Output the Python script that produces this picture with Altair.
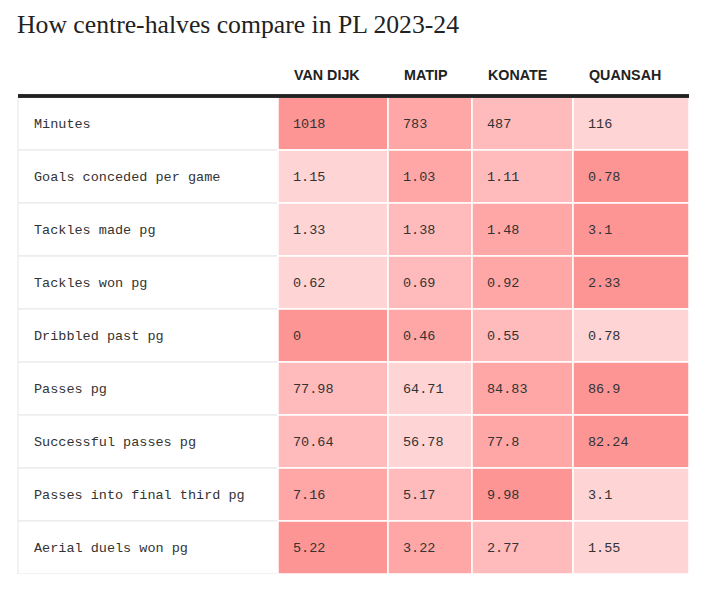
import altair as alt
import pandas as pd

TITLE = "How centre-halves compare in PL 2023-24"
players = ["VAN DIJK", "MATIP", "KONATE", "QUANSAH"]
metrics = [
    "Minutes",
    "Goals conceded per game",
    "Tackles made pg",
    "Tackles won pg",
    "Dribbled past pg",
    "Passes pg",
    "Successful passes pg",
    "Passes into final third pg",
    "Aerial duels won pg",
]
van_dijk = [1018, 1.15, 1.33, 0.62, 0, 77.98, 70.64, 7.16, 5.22]
matip = [783, 1.03, 1.38, 0.69, 0.46, 64.71, 56.78, 5.17, 3.22]
konate = [487, 1.11, 1.48, 0.92, 0.55, 84.83, 77.8, 9.98, 2.77]
quansah = [116, 0.78, 3.1, 2.33, 0.78, 86.9, 82.24, 3.1, 1.55]
lower_is_better = [False, True, False, False, True, False, False, False, False]

# layout (column widths in px)
LABEL_W = 260
COL_W = [110, 84, 101, 116]
SHADES = ["#ffd4d4", "#ffbbbb", "#ffa7a7", "#fe9595"]

series = [van_dijk, matip, konate, quansah]
starts = [LABEL_W]
for w in COL_W[:-1]:
    starts.append(starts[-1] + w)
TOTAL_W = LABEL_W + sum(COL_W)

rows = []
for i, m in enumerate(metrics):
    vals = pd.Series([s[i] for s in series])
    r = vals.rank(method="first", ascending=not lower_is_better[i]) - 1
    for j, p in enumerate(players):
        v = series[j][i]
        rows.append({
            "metric": m, "player": p, "value": v, "label": f"{v:g}",
            "shade": int(r[j]), "x0": starts[j], "x1": starts[j] + COL_W[j],
        })
cells = pd.DataFrame(rows)
labels_df = pd.DataFrame({"metric": metrics, "x0": 0, "x1": LABEL_W})
head_df = pd.DataFrame({"player": players, "x0": starts})

xs = alt.Scale(domain=[0, TOTAL_W], range=[0, TOTAL_W], nice=False, zero=False)
ys = alt.Scale(domain=metrics, paddingInner=0, paddingOuter=0)
X = lambda f: alt.X(f, type="quantitative", scale=xs, axis=None)
Y = alt.Y("metric:N", scale=ys, axis=None, sort=metrics)

label_rect = alt.Chart(labels_df).mark_rect(fill="white", stroke="#e6e6e6", strokeWidth=1).encode(
    x=X("x0"), x2="x1", y=Y)
label_text = alt.Chart(labels_df).mark_text(
    align="left", baseline="middle", dx=16, font="Liberation Mono", fontSize=13.5, color="#333333"
).encode(x=X("x0"), y=Y, text="metric:N")

cell_rect = alt.Chart(cells).mark_rect(stroke="white", strokeWidth=1.5).encode(
    x=X("x0"), x2="x1", y=Y,
    color=alt.Color("shade:O", scale=alt.Scale(domain=[0, 1, 2, 3], range=SHADES), legend=None))
cell_text = alt.Chart(cells).mark_text(
    align="left", baseline="middle", dx=15, font="Liberation Mono", fontSize=13.5, color="#333333"
).encode(x=X("x0"), y=Y, text="label:N")

head_text = alt.Chart(head_df).mark_text(
    align="left", baseline="alphabetic", dx=16, font="Liberation Sans", fontWeight="bold",
    fontSize=14.3, color="#222222"
).encode(x=X("x0"), y=alt.value(-17), text="player:N")

top_rule = alt.Chart(head_df).mark_rule(color="#222222", strokeWidth=3).encode(
    x=alt.value(0), x2=alt.value(TOTAL_W), y=alt.value(-1))

title_text = alt.Chart(pd.DataFrame({"t": [TITLE]})).mark_text(
    align="left", baseline="alphabetic", font="Liberation Serif", fontSize=25.7, color="#222222"
).encode(x=alt.value(-1), y=alt.value(-64), text="t:N")

chart = alt.layer(label_rect, cell_rect, label_text, cell_text, head_text, top_rule, title_text).properties(
    width=TOTAL_W, height=477,
    autosize=alt.AutoSizeParams(type="none"),
    padding={"left": 10, "top": 89, "right": 0, "bottom": 0},
).configure_view(stroke=None)

chart.save("out.html", embed_options={"renderer": "svg", "actions": False})
